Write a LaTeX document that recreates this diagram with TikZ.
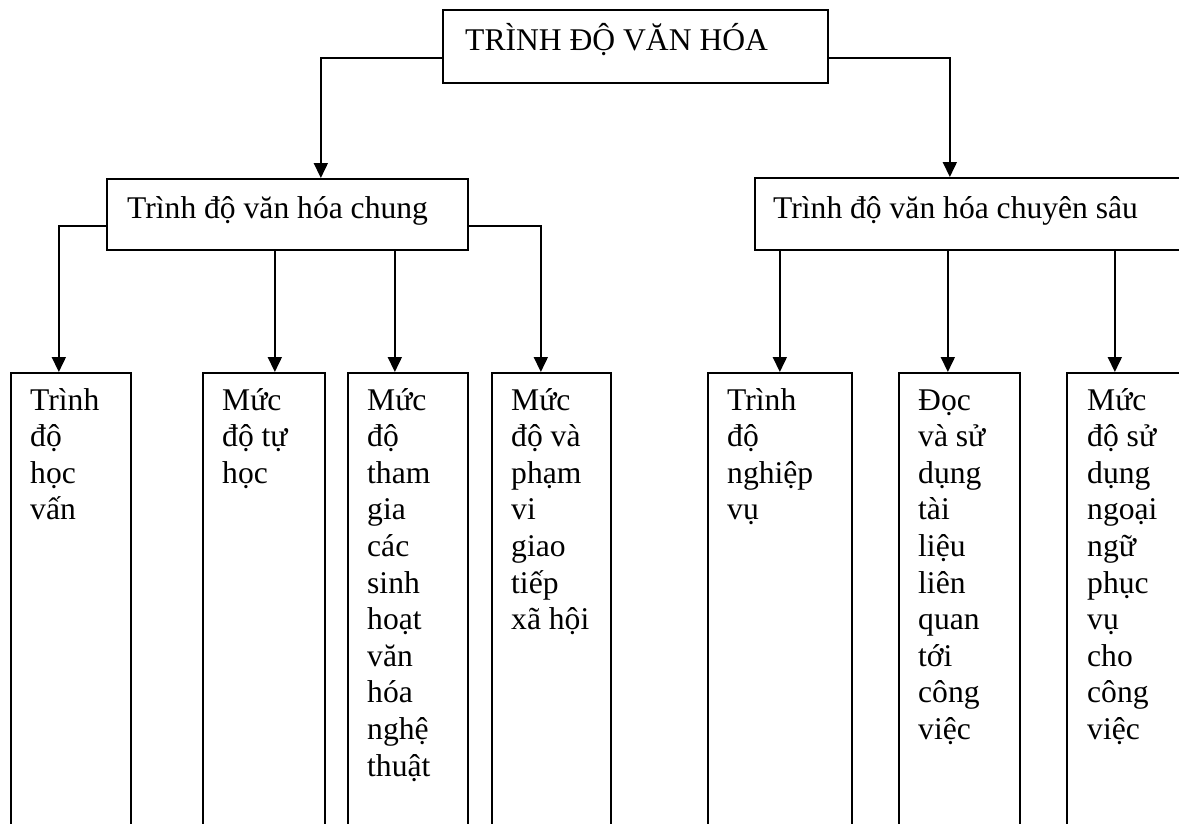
\documentclass[tikz,border=0pt]{standalone}
\usepackage{fontspec}
\setmainfont{Liberation Serif}
\usetikzlibrary{arrows.meta,calc}
\newcommand\fixspaces{\spaceskip=0.25em plus 0pt minus 0pt\relax}
\begin{document}
\begin{tikzpicture}[x=1pt,y=-1pt,
  box/.style={draw, line width=1.7pt, rectangle, inner sep=0pt, anchor=north west},
  lbl/.style={anchor=base west, inner sep=0pt, font=\fontsize{31.6}{36.6}\selectfont},
  col/.style={lbl, text width=140pt, align=left, execute at begin node=\fixspaces},
  arr/.style={line width=1.7pt, -{Triangle[length=15pt,width=14pt]}},
  ln/.style={line width=1.7pt}]
\useasboundingbox (0,0) rectangle (1179,823);
\clip (0,0) rectangle (1179,823);
% level 0
\node[box, minimum width=385pt, minimum height=73pt] (T) at (442,9) {};
\node[lbl] (tt) at (465,50) {TRÌNH ĐỘ VĂN HÓA};
% level 1
\node[box, minimum width=361pt, minimum height=71pt] (C) at (106,178) {};
\node[lbl] (tc) at (127,218) {Trình độ văn hóa chung};
\node[box, minimum width=440pt, minimum height=72pt] (S) at (754,177) {};
\node[lbl] (ts) at (773,218) {Trình độ văn hóa chuyên sâu};
% level 2
\node[box, minimum width=120pt, minimum height=480pt] (b1) at (10,372) {};
\node[box, minimum width=122pt, minimum height=480pt] (b2) at (202,372) {};
\node[box, minimum width=120pt, minimum height=480pt] (b3) at (347,372) {};
\node[box, minimum width=119pt, minimum height=480pt] (b4) at (491,372) {};
\node[box, minimum width=144pt, minimum height=480pt] (b5) at (707,372) {};
\node[box, minimum width=121pt, minimum height=480pt] (b6) at (898,372) {};
\node[box, minimum width=130pt, minimum height=480pt] (b7) at (1066,372) {};
\node[col] (t1) at (30,410) {Trình\\độ\\học\\vấn};
\node[col] (t2) at (222,410) {Mức\\độ tự\\học};
\node[col] (t3) at (367,410) {Mức\\độ\\tham\\gia\\các\\sinh\\hoạt\\văn\\hóa\\nghệ\\thuật};
\node[col] (t4) at (511,410) {Mức\\độ và\\phạm\\vi\\giao\\tiếp\\xã hội};
\node[col] (t5) at (727,410) {Trình\\độ\\nghiệp\\vụ};
\node[col] (t6) at (918,410) {Đọc\\và sử\\dụng\\tài\\liệu\\liên\\quan\\tới\\công\\việc};
\node[col] (t7) at (1087,410) {Mức\\độ sử\\dụng\\ngoại\\ngữ\\phục\\vụ\\cho\\công\\việc};
% connectors
\draw[arr] ([yshift=-11.5pt]T.west) -| ([xshift=33.5pt]C.north);
\draw[arr] ([yshift=-11.5pt]T.east) -| ([xshift=-25pt]S.north);
\draw[arr] ([yshift=-11.5pt]C.west) -| ([xshift=-12pt]b1.north);
\draw[arr] ([xshift=11pt]b2.north |- C.south) -- ([xshift=11pt]b2.north);
\draw[arr] ([xshift=-13pt]b3.north |- C.south) -- ([xshift=-13pt]b3.north);
\draw[arr] ([yshift=-11.5pt]C.east) -| ([xshift=-10.5pt]b4.north);
\draw[arr] (b5.north |- S.south) -- (b5.north);
\draw[arr] ([xshift=-11.5pt]b6.north |- S.south) -- ([xshift=-11.5pt]b6.north);
\draw[arr] ([xshift=-17pt]b7.north |- S.south) -- ([xshift=-17pt]b7.north);
\end{tikzpicture}
\end{document}
